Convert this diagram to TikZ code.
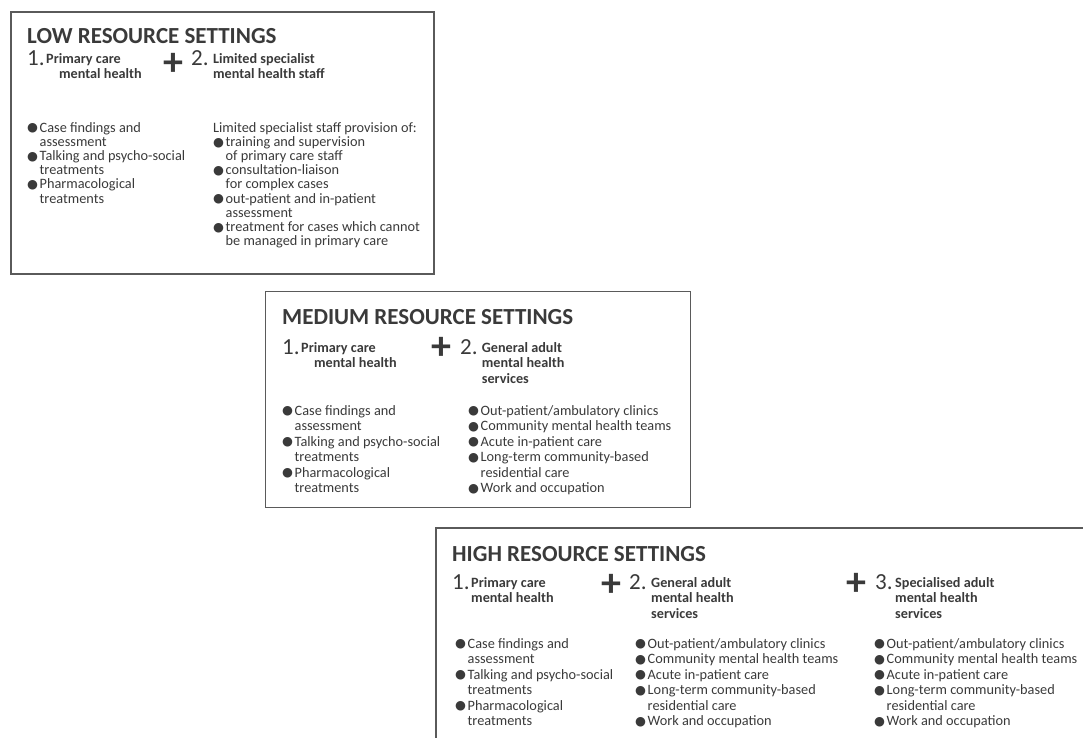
\documentclass[tikz,border=0pt]{standalone}
\usepackage{fontspec}
\setmainfont{Carlito}
\newfontfamily\symfont{DejaVu Sans}
\definecolor{txt}{HTML}{3A3A3A}
\definecolor{frame}{HTML}{5A5A5A}
\newcommand\bul{\makebox[12.5pt][l]{\raisebox{0.3pt}{\symfont\fontsize{12.5}{12.5}\selectfont ●}}}
\newcommand\ind{\hspace*{12.5pt}}
\tikzset{
  box/.style={draw=frame, line width=1.4pt, anchor=north west, inner sep=0pt, outer sep=0pt},
  ttl/.style={anchor=base west, inner sep=0pt, text=txt, font=\fontsize{23}{24}\selectfont\bfseries},
  num/.style={anchor=base west, inner sep=0pt, text=txt, font=\fontsize{23}{23}\selectfont},
  head/.style={anchor=north west, yshift=10.85pt, inner sep=0pt, text=txt, align=left, font=\fontsize{14.2}{15.5}\selectfont\bfseries},
  plussign/.style={inner sep=0pt, text=txt, font=\fontsize{40}{40}\selectfont\bfseries},
  lst/.style={anchor=north west, yshift=10.85pt, inner sep=0pt, text=txt, align=left, font=\fontsize{14.3}{15.5}\selectfont},
  lstlow/.style={lst, yshift=-0.9pt, font=\fontsize{14.3}{14.2}\selectfont},
}
\begin{document}
\begin{tikzpicture}[x=1pt,y=-1pt]
\useasboundingbox (0,0) rectangle (1083,737);
\clip (0,0) rectangle (1083,737);
% boxes
\node[box, minimum width=423pt, minimum height=262pt] (lowbox) at (11,12) {};
\node[box, minimum width=425pt, minimum height=216pt] (medbox) at (265.5,291.5) {};
\node[box, minimum width=700pt, minimum height=260pt] (highbox) at (436,528) {};
% LOW
\node[ttl] (lowt) at (27,43) {LOW RESOURCE SETTINGS};
\node[num] (low1) at (27,65) {1.};
\node[head] (low1h) at (46,63) {\strut Primary care\\\hspace*{13pt}mental health};
\node[plussign] (lowp) at (173,64) {+};
\node[num] (low2) at (191,65) {2.};
\node[head] (low2h) at (213,63) {\strut Limited specialist\\mental health staff};
\node[lstlow] (lowl) at (27,132) {\strut\bul Case findings and\\\ind assessment\\\bul Talking and psycho-social\\\ind treatments\\\bul Pharmacological\\\ind treatments};
\node[lstlow] (lowr) at (213,132) {\strut Limited specialist staff provision of:\\\bul training and supervision\\\ind of primary care staff\\\bul consultation-liaison\\\ind for complex cases\\\bul out-patient and in-patient\\\ind assessment\\\bul treatment for cases which cannot\\\ind be managed in primary care};
% MEDIUM
\node[ttl] (medt) at (282,324) {MEDIUM RESOURCE SETTINGS};
\node[num] (med1) at (282,354) {1.};
\node[head] (med1h) at (301,352) {\strut Primary care\\\hspace*{13pt}mental health};
\node[plussign] (medp) at (441.7,348) {+};
\node[num] (med2) at (460,354) {2.};
\node[head] (med2h) at (481.7,352) {\strut General adult\\mental health\\services};
\node[lst] (medl) at (282,415) {\strut\bul Case findings and\\\ind assessment\\\bul Talking and psycho-social\\\ind treatments\\\bul Pharmacological\\\ind treatments};
\node[lst] (medr) at (468,415) {\strut\bul Out-patient/ambulatory clinics\\\bul Community mental health teams\\\bul Acute in-patient care\\\bul Long-term community-based\\\ind residential care\\\bul Work and occupation};
% HIGH
\node[ttl] (hight) at (452,561) {HIGH RESOURCE SETTINGS};
\node[num] (high1) at (452,589) {1.};
\node[head] (high1h) at (471,587) {\strut Primary care\\mental health};
\node[plussign] (highpa) at (611,585) {+};
\node[num] (high2) at (629,589) {2.};
\node[head] (high2h) at (651,587) {\strut General adult\\mental health\\services};
\node[plussign] (highpb) at (856,584.5) {+};
\node[num] (high3) at (875,589) {3.};
\node[head] (high3h) at (895,587) {\strut Specialised adult\\mental health\\services};
\node[lst] (highl) at (455,648) {\strut\bul Case findings and\\\ind assessment\\\bul Talking and psycho-social\\\ind treatments\\\bul Pharmacological\\\ind treatments};
\node[lst] (highm) at (635,648) {\strut\bul Out-patient/ambulatory clinics\\\bul Community mental health teams\\\bul Acute in-patient care\\\bul Long-term community-based\\\ind residential care\\\bul Work and occupation};
\node[lst] (highr) at (874,648) {\strut\bul Out-patient/ambulatory clinics\\\bul Community mental health teams\\\bul Acute in-patient care\\\bul Long-term community-based\\\ind residential care\\\bul Work and occupation};
\end{tikzpicture}
\end{document}
